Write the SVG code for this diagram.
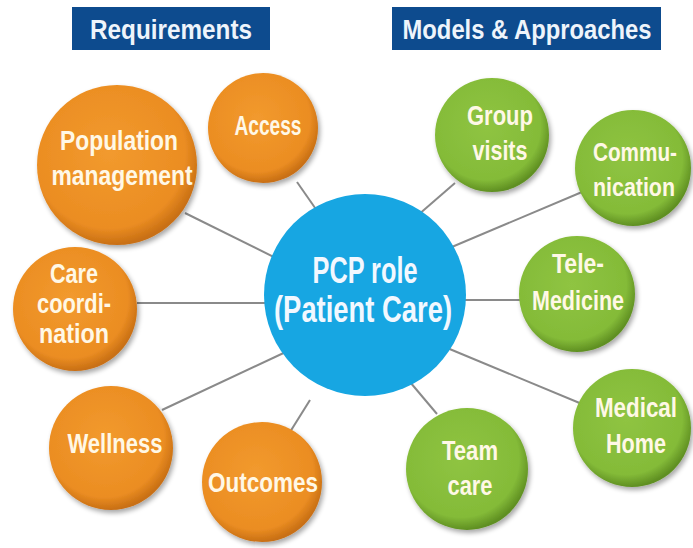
<svg xmlns="http://www.w3.org/2000/svg" width="693" height="548" viewBox="0 0 693 548">
<defs>
<radialGradient id="gO" cx="45%" cy="42%" r="58%">
<stop offset="0" stop-color="#f29a2e"/><stop offset="0.82" stop-color="#eb8d22"/><stop offset="1" stop-color="#c86f14"/>
</radialGradient>
<radialGradient id="gG" cx="45%" cy="42%" r="58%">
<stop offset="0" stop-color="#8fc442"/><stop offset="0.82" stop-color="#84bb38"/><stop offset="1" stop-color="#5f8f22"/>
</radialGradient>
<filter id="sh" x="-20%" y="-20%" width="140%" height="140%">
<feGaussianBlur in="SourceAlpha" stdDeviation="2.5"/>
<feOffset dx="2" dy="3" result="b"/>
<feComponentTransfer><feFuncA type="linear" slope="0.35"/></feComponentTransfer>
<feMerge><feMergeNode/><feMergeNode in="SourceGraphic"/></feMerge>
</filter>
</defs>
<style>
.hdr{fill:#0d4b8e}
.ht{font-family:"Liberation Sans Narrow","Liberation Sans",sans-serif;font-weight:bold;font-size:27px;fill:#eef4fb;text-anchor:middle}
.t{font-family:"Liberation Sans Narrow","Liberation Sans",sans-serif;font-weight:bold;font-size:27px;fill:#fff8e6;text-anchor:middle}
.ts{font-size:25px}
.tc{font-family:"Liberation Sans Narrow","Liberation Sans",sans-serif;font-weight:bold;font-size:37px;fill:#f2f8ff;text-anchor:middle}
.o{fill:url(#gO);filter:url(#sh)}
.g{fill:url(#gG);filter:url(#sh)}
.c{fill:#17a6e2}
.ln{stroke:#8a8a8a;stroke-width:2;fill:none}
</style>
<rect width="693" height="548" fill="#ffffff"/>
<g id="hdr-req"><rect class="hdr" x="72" y="7" width="198" height="43"/><text class="ht" x="171" y="39" textLength="162" lengthAdjust="spacingAndGlyphs">Requirements</text></g>
<g id="hdr-models"><rect class="hdr" x="392" y="7" width="269" height="43"/><text class="ht" x="527" y="39" textLength="249" lengthAdjust="spacingAndGlyphs">Models &amp; Approaches</text></g>
<g id="connectors">
<line class="ln" x1="185" y1="213" x2="300" y2="270"/>
<line class="ln" x1="297" y1="182" x2="320" y2="215"/>
<line class="ln" x1="137" y1="303" x2="280" y2="303"/>
<line class="ln" x1="162" y1="410" x2="290" y2="350"/>
<line class="ln" x1="290" y1="432" x2="310" y2="400"/>
<line class="ln" x1="455" y1="183" x2="410" y2="222"/>
<line class="ln" x1="582" y1="192" x2="440" y2="252"/>
<line class="ln" x1="450" y1="300" x2="520" y2="300"/>
<line class="ln" x1="440" y1="345" x2="582" y2="404"/>
<line class="ln" x1="410" y1="382" x2="437" y2="414"/>
</g>
<g id="center"><circle class="c" cx="365" cy="295" r="101"/><text class="tc" x="365" y="283" textLength="105" lengthAdjust="spacingAndGlyphs">PCP role</text><text class="tc" x="363" y="322" textLength="178" lengthAdjust="spacingAndGlyphs">(Patient Care)</text></g>
<g id="population"><circle class="o" cx="117" cy="165" r="80"/><text class="t" x="119" y="150" textLength="118" lengthAdjust="spacingAndGlyphs">Population</text><text class="t" x="122" y="185" textLength="141" lengthAdjust="spacingAndGlyphs">management</text></g>
<g id="access"><circle class="o" cx="263" cy="128" r="55"/><text class="t" x="268" y="135" textLength="67" lengthAdjust="spacingAndGlyphs">Access</text></g>
<g id="care-coord"><circle class="o" cx="75" cy="309" r="62"/><text class="t" x="74" y="283" textLength="48" lengthAdjust="spacingAndGlyphs">Care</text><text class="t" x="74" y="313" textLength="74" lengthAdjust="spacingAndGlyphs">coordi-</text><text class="t" x="74" y="343" textLength="70" lengthAdjust="spacingAndGlyphs">nation</text></g>
<g id="wellness"><circle class="o" cx="111" cy="448" r="62"/><text class="t" x="115" y="453" textLength="95" lengthAdjust="spacingAndGlyphs">Wellness</text></g>
<g id="outcomes"><circle class="o" cx="262" cy="482" r="60"/><text class="t" x="263" y="492" textLength="110" lengthAdjust="spacingAndGlyphs">Outcomes</text></g>
<g id="group-visits"><circle class="g" cx="492" cy="135" r="57"/><text class="t" x="500" y="125" textLength="66" lengthAdjust="spacingAndGlyphs">Group</text><text class="t" x="500" y="160" textLength="55" lengthAdjust="spacingAndGlyphs">visits</text></g>
<g id="communication"><circle class="g" cx="633" cy="168" r="58"/><text class="t ts" x="635" y="161" textLength="84" lengthAdjust="spacingAndGlyphs">Commu-</text><text class="t ts" x="634" y="196" textLength="82" lengthAdjust="spacingAndGlyphs">nication</text></g>
<g id="telemedicine"><circle class="g" cx="577" cy="294" r="58"/><text class="t" x="578" y="273" textLength="52" lengthAdjust="spacingAndGlyphs">Tele-</text><text class="t" x="578" y="310" textLength="92" lengthAdjust="spacingAndGlyphs">Medicine</text></g>
<g id="medical-home"><circle class="g" cx="632" cy="428" r="59"/><text class="t" x="636" y="417" textLength="82" lengthAdjust="spacingAndGlyphs">Medical</text><text class="t" x="636" y="453" textLength="60" lengthAdjust="spacingAndGlyphs">Home</text></g>
<g id="team-care"><circle class="g" cx="467" cy="469" r="61"/><text class="t" x="470" y="460" textLength="56" lengthAdjust="spacingAndGlyphs">Team</text><text class="t" x="470" y="495" textLength="45" lengthAdjust="spacingAndGlyphs">care</text></g>
</svg>
